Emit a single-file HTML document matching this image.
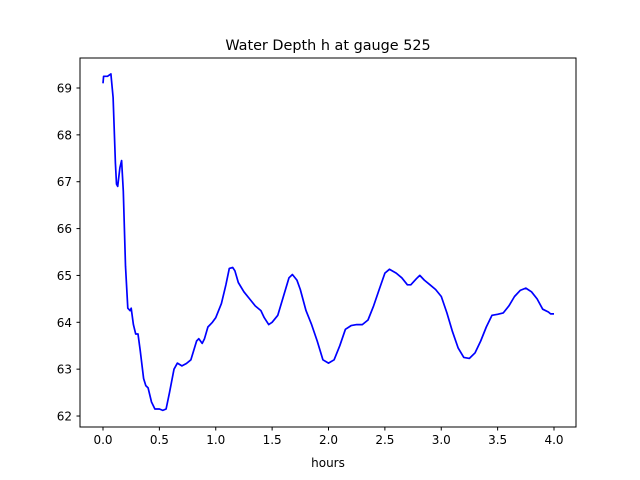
<!DOCTYPE html>
<html><head><meta charset="utf-8"><style>body{margin:0;background:#fff}svg{display:block;font-family:"DejaVu Sans","Liberation Sans",sans-serif}</style></head>
<body>
<svg id="c" width="640" height="480">
<rect width="640" height="480" fill="#fff"/>
<text x="328" y="50" font-size="14.4" text-anchor="middle">Water Depth h at gauge 525</text>
<g id="plot"></g>
<rect x="80" y="58" width="496" height="369" fill="none" stroke="#000" stroke-width="1"/>
<text x="328" y="467" font-size="12" text-anchor="middle">hours</text>
</svg>
<script>
const times=[0,0.005,0.04,0.07,0.09,0.11,0.12,0.13,0.15,0.165,0.18,0.2,0.22,0.24,0.25,0.27,0.29,0.31,0.33,0.36,0.38,0.4,0.43,0.46,0.5,0.53,0.56,0.59,0.63,0.66,0.7,0.74,0.78,0.83,0.85,0.88,0.9,0.93,0.97,1.0,1.05,1.09,1.12,1.15,1.17,1.2,1.25,1.3,1.35,1.4,1.43,1.47,1.5,1.55,1.6,1.65,1.68,1.72,1.75,1.8,1.85,1.9,1.95,2.0,2.05,2.1,2.15,2.2,2.25,2.3,2.35,2.4,2.45,2.5,2.54,2.6,2.65,2.7,2.73,2.78,2.81,2.85,2.9,2.95,3.0,3.05,3.1,3.15,3.2,3.25,3.3,3.35,3.4,3.45,3.5,3.55,3.6,3.65,3.7,3.75,3.8,3.85,3.9,3.95,3.97,4.0];
const depth=[69.1,69.25,69.25,69.3,68.8,67.4,66.95,66.9,67.3,67.45,66.8,65.2,64.3,64.25,64.3,63.95,63.75,63.75,63.4,62.8,62.65,62.6,62.3,62.15,62.15,62.12,62.15,62.5,63.0,63.13,63.07,63.12,63.2,63.6,63.65,63.55,63.65,63.9,64.0,64.1,64.4,64.8,65.15,65.17,65.1,64.85,64.65,64.5,64.35,64.25,64.1,63.95,64.0,64.15,64.55,64.95,65.02,64.9,64.7,64.25,63.95,63.6,63.2,63.13,63.2,63.5,63.85,63.93,63.95,63.95,64.05,64.35,64.7,65.05,65.13,65.05,64.95,64.8,64.8,64.93,65.0,64.9,64.8,64.7,64.55,64.2,63.8,63.45,63.25,63.23,63.35,63.6,63.9,64.15,64.17,64.2,64.35,64.55,64.68,64.73,64.65,64.5,64.28,64.22,64.18,64.18];
const xTicks=[0,0.5,1,1.5,2,2.5,3,3.5,4];
const yTicks=[62,63,64,65,66,67,68,69];
const NS="http://www.w3.org/2000/svg";
const sx=v=>103+v*112.75;
const sy=v=>88+(69-v)*46.86;
const g=document.getElementById('plot');
function mk(t,a){const e=document.createElementNS(NS,t);for(const k in a)e.setAttribute(k,a[k]);g.appendChild(e);return e;}
xTicks.forEach(t=>{
 const l=mk('line',{x1:sx(t),x2:sx(t),y1:427,y2:430.5,stroke:'#000'});
 
 
 const tx=mk('text',{x:sx(t),y:444,'font-size':12,'text-anchor':'middle'});tx.textContent=t.toFixed(1);
 
 
});
yTicks.forEach(t=>{
 const l=mk('line',{x1:76.5,x2:80,y1:sy(t),y2:sy(t),stroke:'#000'});
 
 
 const tx=mk('text',{x:72,y:sy(t)+4.5,'font-size':12,'text-anchor':'end'});tx.textContent=t;
 
 
});
const p=mk('polyline',{points:times.map((t,i)=>sx(t).toFixed(1)+','+sy(depth[i]).toFixed(1)).join(' '),fill:'none',stroke:'#0000ff','stroke-width':1.7,'stroke-linejoin':'round'});


</script>
</body></html>
